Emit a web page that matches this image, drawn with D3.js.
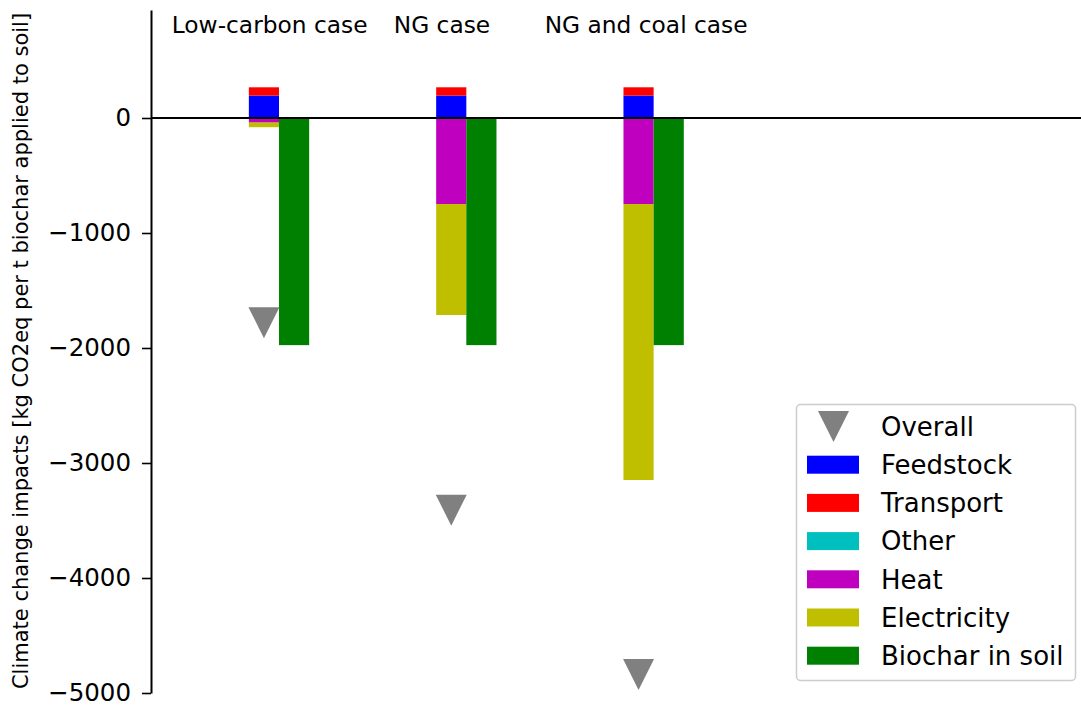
<!DOCTYPE html>
<html>
<head>
<meta charset="utf-8">
<script src="https://cdn.jsdelivr.net/npm/d3@7"></script>
<style>
  html, body { margin: 0; padding: 0; background: #fff; }
  svg { display: block; font-family: "DejaVu Sans", sans-serif; }
</style>
</head>
<body>
<svg id="chart" width="1081" height="707"></svg>
<script>
// ---- data ----
const cases = ["Low-carbon case", "NG case", "NG and coal case"];
const caseLabelPos = [-0.05, 0.87, 1.96];
const feedstock = [195, 195, 195];
const transport = [72, 72, 72];
const other = [0, 0, 0];
const heat = [-40, -748, -748];
const electricity = [-40, -965, -2400];
const biochar = [-1975, -1975, -1975];
const overall = [-1780, -3410, -4840];
const yTicks = [0, -1000, -2000, -3000, -4000, -5000];
const legendLabels = ["Overall", "Feedstock", "Transport", "Other", "Heat", "Electricity", "Biochar in soil"];
const yLabel = "Climate change impacts [kg CO2eq per t biochar applied to soil]";

const colors = {
  Feedstock: "#0000ff", Transport: "#ff0000", Other: "#00bfbf",
  Heat: "#bf00bf", Electricity: "#bfbf00", "Biochar in soil": "#008000", Overall: "#808080"
};

const svg = d3.select("#chart");
const x = d3.scaleLinear().domain([-0.6834, 4.2816]).range([151, 1081]);
const y = d3.scaleLinear().domain([-5000, 940]).range([693, 9.9]);
const barW = 0.161;

// stacked segments
const posSeries = [["Feedstock", feedstock], ["Transport", transport]];
const negSeries = [["Other", other], ["Heat", heat], ["Electricity", electricity]];
const segs = [];
cases.forEach((c, i) => {
  let pos = 0, neg = 0;
  posSeries.forEach(([name, arr]) => {
    const v = arr[i];
    if (v > 0) { segs.push({ i, name, y0: pos, y1: pos + v }); pos += v; }
  });
  negSeries.forEach(([name, arr]) => {
    const v = arr[i];
    if (v < 0) { segs.push({ i, name, y0: neg + v, y1: neg }); neg += v; }
  });
});

svg.append("g").selectAll("rect.seg").data(segs).join("rect")
  .attr("x", d => x(d.i - barW))
  .attr("width", d => x(d.i) - x(d.i - barW))
  .attr("y", d => y(d.y1))
  .attr("height", d => y(d.y0) - y(d.y1))
  .attr("fill", d => colors[d.name]);

svg.append("g").selectAll("rect.bio").data(biochar).join("rect")
  .attr("x", (d, i) => x(i))
  .attr("width", (d, i) => x(i + barW) - x(i))
  .attr("y", d => y(Math.max(0, d)))
  .attr("height", d => Math.abs(y(d) - y(0)))
  .attr("fill", colors["Biochar in soil"]);

// zero line
svg.append("line")
  .attr("x1", x.range()[0]).attr("x2", x.range()[1])
  .attr("y1", y(0)).attr("y2", y(0))
  .attr("stroke", "#000").attr("stroke-width", 2);

// overall markers
const tri = (cx, cy, r) => `M${cx - r},${cy - r}L${cx + r},${cy - r}L${cx},${cy + r}Z`;
svg.append("g").selectAll("path").data(overall).join("path")
  .attr("d", (d, i) => tri(x(i - barW / 2), y(d), 15.5))
  .attr("fill", colors.Overall);

// y axis
const yAxis = d3.axisLeft(y).tickValues(yTicks).tickFormat(d3.format("d"))
  .tickSize(9).tickSizeOuter(0).tickPadding(11);
const gy = svg.append("g").attr("transform", `translate(${x.range()[0]},0)`).call(yAxis);
gy.select(".domain").attr("stroke", "#000").attr("stroke-width", 2);
gy.selectAll(".tick line").attr("stroke", "#000").attr("stroke-width", 1.6);
gy.selectAll(".tick text").attr("font-size", 24.5).attr("fill", "#000")
  .attr("font-family", "DejaVu Sans");

// y label
svg.append("text")
  .attr("transform", `translate(28,351) rotate(-90)`)
  .attr("text-anchor", "middle")
  .attr("font-size", 21)
  .attr("fill", "#000")
  .text(yLabel);

// case labels
svg.append("g").selectAll("text").data(cases).join("text")
  .attr("x", (d, i) => x(caseLabelPos[i]))
  .attr("y", 33)
  .attr("text-anchor", "middle")
  .attr("font-size", 23.3)
  .attr("fill", "#000")
  .text(d => d);

// legend
const lg = svg.append("g");
lg.append("rect")
  .attr("x", 796.5).attr("y", 404.5).attr("width", 279).attr("height", 276)
  .attr("rx", 4).attr("fill", "#fff").attr("fill-opacity", 0.8)
  .attr("stroke", "#cccccc").attr("stroke-width", 1.5);
const rowY = i => 426.5 + i * 38.2;
legendLabels.forEach((name, i) => {
  const cy = rowY(i);
  if (name === "Overall") {
    lg.append("path").attr("d", tri(833.5, cy, 15.5)).attr("fill", colors.Overall);
  } else {
    lg.append("rect").attr("x", 807).attr("y", cy - 9).attr("width", 52).attr("height", 18)
      .attr("fill", colors[name]);
  }
  lg.append("text").attr("x", 881).attr("y", cy).attr("dy", "0.36em")
    .attr("font-size", 26).attr("fill", "#000").text(name);
});
</script>
</body>
</html>
